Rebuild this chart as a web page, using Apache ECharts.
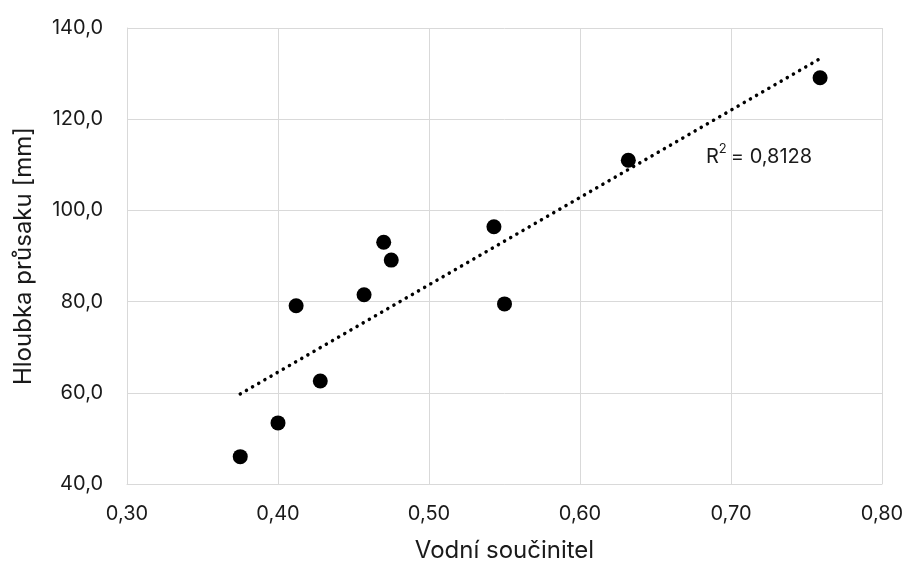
<!DOCTYPE html>
<html><head><meta charset="utf-8">
<script src="https://cdn.jsdelivr.net/npm/echarts@6/dist/echarts.min.js"></script>
<style>html,body{margin:0;padding:0;background:#fff}#c{width:906px;height:563px}</style>
</head><body><div id="c"></div>
<script>
const xValues = [0.375, 0.400, 0.412, 0.428, 0.457, 0.470, 0.475, 0.543, 0.550, 0.632, 0.759];
const yValues = [46.0, 53.4, 79.1, 62.6, 81.5, 93.0, 89.1, 96.4, 79.5, 111.0, 129.1];
const r2Text = '0,8128';
const xTitle = 'Vodní součinitel';
const yTitle = 'Hloubka průsaku [mm]';

const pts = xValues.map((x, i) => [x, yValues[i]]);
const n = xValues.length;
const mx = xValues.reduce((a, b) => a + b, 0) / n;
const my = yValues.reduce((a, b) => a + b, 0) / n;
let sxy = 0, sxx = 0;
for (let i = 0; i < n; i++) { sxy += (xValues[i] - mx) * (yValues[i] - my); sxx += (xValues[i] - mx) ** 2; }
const slope = sxy / sxx, icpt = my - slope * mx;
const xmin = Math.min(...xValues), xmax = Math.max(...xValues);
const trend = [[xmin, icpt + slope * xmin], [xmax, icpt + slope * xmax]];

const font = 'Inter, "Noto Sans", sans-serif';
const txt = '#1a1a1a';
const fmt1 = v => v.toFixed(1).replace('.', ',');
const fmt2 = v => v.toFixed(2).replace('.', ',');
const chart = echarts.init(document.getElementById('c'));
chart.setOption({
  animation: false,
  grid: { left: 127, right: 24, top: 28, bottom: 79, containLabel: false, outerBoundsMode: 'none' },
  xAxis: {
    type: 'value', min: 0.3, max: 0.8, interval: 0.1,
    name: xTitle, nameLocation: 'middle', nameGap: 55,
    nameTextStyle: { fontSize: 24, color: txt, fontFamily: font },
    axisLine: { show: true, lineStyle: { color: '#d9d9d9' } },
    axisTick: { show: false },
    axisLabel: { formatter: fmt2, fontSize: 20, color: txt, fontFamily: font, margin: 20 },
    splitLine: { show: true, lineStyle: { color: '#d9d9d9', width: 1 } }
  },
  yAxis: {
    type: 'value', min: 40, max: 140, interval: 20,
    name: yTitle, nameLocation: 'middle', nameGap: 91, nameRotate: 90,
    nameTextStyle: { fontSize: 24, color: txt, fontFamily: font },
    axisLine: { show: true, lineStyle: { color: '#d9d9d9' } },
    axisTick: { show: false },
    axisLabel: { formatter: fmt1, fontSize: 20, color: txt, fontFamily: font, margin: 24 },
    splitLine: { show: true, lineStyle: { color: '#d9d9d9', width: 1 } }
  },
  series: [
    {
      type: 'line', data: trend, symbol: 'none', z: 3,
      lineStyle: { color: '#000', width: 3.5, type: [0.1, 7], cap: 'round' }
    },
    {
      type: 'scatter', data: pts, symbol: 'circle', symbolSize: 15, z: 4,
      itemStyle: { color: '#000', opacity: 1 }
    }
  ],
  graphic: [{
    type: 'text', left: 706, top: 143, z: 10,
    style: {
      text: '{r|R}{s|2}{r|= ' + r2Text + '}',
      rich: {
        r: { fontSize: 20, fill: txt, fontFamily: font, verticalAlign: 'bottom', lineHeight: 24 },
        s: { fontSize: 13, fill: txt, fontFamily: font, verticalAlign: 'top', lineHeight: 24, padding: [0, 4, 12, 0] }
      }
    }
  }]
});
</script></body></html>
